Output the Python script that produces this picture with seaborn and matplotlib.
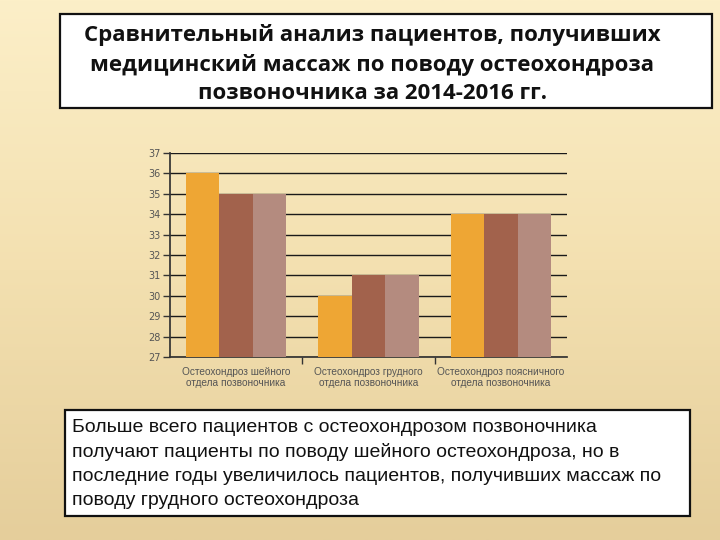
import numpy as np
import pandas as pd
import matplotlib
matplotlib.use("Agg")
import matplotlib.pyplot as plt
from matplotlib.patches import Rectangle
from matplotlib.colors import LinearSegmentedColormap
import seaborn as sns

categories = ["Остеохондроз шейного\nотдела позвоночника",
              "Остеохондроз грудного\nотдела позвоночника",
              "Остеохондроз поясничного\nотдела позвоночника"]
years = ["2014", "2015", "2016"]
values_2014 = [36, 30, 34]
values_2015 = [35, 31, 34]
values_2016 = [35, 31, 34]
colors = ["#EEA634", "#A2624C", "#B48B7F"]
yticks = list(range(27, 38))

title = ("Сравнительный анализ пациентов, получивших\n"
         "медицинский массаж по поводу остеохондроза\n"
         "позвоночника за 2014-2016 гг.")
note = ("Больше всего пациентов с остеохондрозом позвоночника\n"
        "получают пациенты по поводу шейного остеохондроза, но в\n"
        "последние годы увеличилось пациентов, получивших массаж по\n"
        "поводу грудного остеохондроза")

rows = []
for y, vals in zip(years, [values_2014, values_2015, values_2016]):
    for c, v in zip(categories, vals):
        rows.append({"cat": c, "year": y, "value": v})
df = pd.DataFrame(rows)

sns.set_theme(style="white")
plt.rcParams['font.family'] = ['DejaVu Sans']

fig = plt.figure(figsize=(7.2, 5.4), dpi=100)

# background gradient
bg = fig.add_axes([0, 0, 1, 1], zorder=-10)
grad = np.linspace(0, 1, 256).reshape(-1, 1)
cmap = LinearSegmentedColormap.from_list("bg", ["#FCEFC8", "#F3E0B0", "#E5CE9B"])
bg.imshow(grad, aspect="auto", cmap=cmap, extent=[0, 1, 0, 1], origin="upper")
bg.axis("off")

# title box
fig.patches.append(Rectangle((60/720, 432/540), 652/720, 94/540, transform=fig.transFigure,
                             facecolor="white", edgecolor="#111111", linewidth=1.6, zorder=1))
fig.text(372/720, (540-64)/540, title, ha="center", va="center",
         fontsize=16, fontweight="bold", family=["Open Sans", "DejaVu Sans"],
         linespacing=1.45, color="#111111", zorder=2)

# note box
fig.patches.append(Rectangle((65/720, 24/540), 625/720, 106/540, transform=fig.transFigure,
                             facecolor="white", edgecolor="#111111", linewidth=1.6, zorder=1))
fig.text(72/720, (540-419)/540, note, ha="left", va="top",
         fontsize=14, family=["Liberation Sans", "DejaVu Sans"],
         linespacing=1.52, color="#111111", zorder=2)

ax = fig.add_axes([170/720, 183/540, 397/720, 204/540])
ax.patch.set_alpha(0)
sns.barplot(data=df, x="cat", y="value", hue="year", palette=colors,
            width=0.76, saturation=1, ax=ax, zorder=3, legend=False)
for p in ax.patches:
    p.set_edgecolor("none")

ax.set_ylim(27, 37)
ax.set_yticks(yticks)
ax.yaxis.grid(True, color="#1a1a1a", linewidth=1.0)
ax.set_axisbelow(True)
ax.set_xlabel("")
ax.set_ylabel("")
for s in ["top", "right"]:
    ax.spines[s].set_visible(False)
ax.spines["left"].set_color("#333333")
ax.spines["bottom"].set_color("#333333")
ax.tick_params(axis="y", left=True, length=5, width=1, color="#333333",
               labelsize=7, labelcolor="#555555", pad=2)
ax.set_xticks([0, 1, 2])
ax.set_xticklabels(categories, fontsize=7.3, color="#555555",
                   family=["Liberation Sans", "DejaVu Sans"], linespacing=1.1)
ax.tick_params(axis="x", bottom=False, pad=1)
ax.set_xticks([0.5, 1.5], minor=True)
ax.tick_params(axis="x", which="minor", bottom=True, length=5, width=1, color="#333333")
ax.set_xlim(-0.5, 2.5)

fig.savefig("out.png", dpi=100)
